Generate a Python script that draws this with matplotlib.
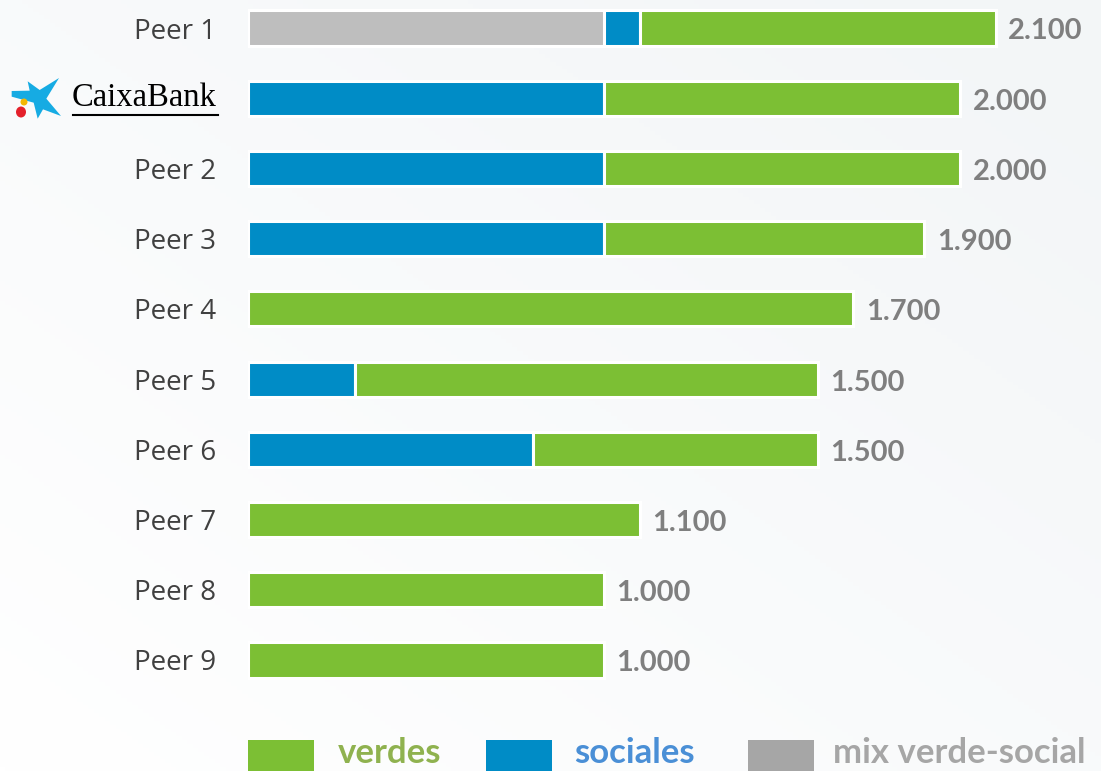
import matplotlib
matplotlib.use("Agg")
import matplotlib.pyplot as plt
import numpy as np
from matplotlib.patches import Polygon, Ellipse, Rectangle
from matplotlib.lines import Line2D

# ---------------- data ----------------
categories = ["Peer 1", "CaixaBank", "Peer 2", "Peer 3", "Peer 4",
              "Peer 5", "Peer 6", "Peer 7", "Peer 8", "Peer 9"]
# segment lengths as drawn in the picture
mix = [1000, 0, 0, 0, 0, 0, 0, 0, 0, 0]
sociales = [100, 1000, 1000, 1000, 0, 300, 800, 0, 0, 0]
verdes = [1000, 1000, 1000, 900, 1700, 1300, 800, 1100, 1000, 1000]
# printed totals
total_labels = ["2.100", "2.000", "2.000", "1.900", "1.700",
                "1.500", "1.500", "1.100", "1.000", "1.000"]
legend_labels = ["verdes", "sociales", "mix verde-social"]

# ---------------- style ----------------
C_GREEN = "#7CBF34"
C_BLUE = "#008CC6"
C_GRAY = "#BEBEBE"
C_LEG_GRAY = "#A6A6A6"
C_NUM = "#7F7F7F"
C_LABEL = "#404040"

W, H = 1101, 771
fig = plt.figure(figsize=(W / 100, H / 100), dpi=100)
fig.patch.set_facecolor("white")

# subtle background gradient
bg = fig.add_axes([0, 0, 1, 1], zorder=-10)
gx, gy = np.meshgrid(np.linspace(0, 1, 200), np.linspace(0, 1, 200))
g = np.clip(0.55 * gx + 0.55 * (1 - gy), 0, 1)
c0 = np.array([1.0, 1.0, 1.0])
c1 = np.array([0.955, 0.965, 0.972])
img = c0[None, None, :] * (1 - g[..., None]) + c1[None, None, :] * g[..., None]
bg.imshow(img, extent=[0, 1, 0, 1], aspect="auto", origin="upper")
bg.set_axis_off()

# main axes: value 0 at x=248px, 1000 units = 356 px; rows 70.22 px apart, first at y=28px
x0_px = 248
px_per_unit = 356 / 1000
ax_top_px, ax_bot_px = 0, 700
ax = fig.add_axes([x0_px / W, 1 - ax_bot_px / H, 1 - x0_px / W, (ax_bot_px - ax_top_px) / H])
ax.set_facecolor("none")
ax.set_xlim(0, (W - x0_px) / px_per_unit)
row_px = 70.22
ax.set_ylim(9 + (ax_bot_px - 660) / row_px, -(28 - ax_top_px) / row_px)

y = np.arange(len(categories))
mix_a = np.array(mix, dtype=float)
soc_a = np.array(sociales, dtype=float)
ver_a = np.array(verdes, dtype=float)
bh = 0.5
ax.barh(y, mix_a, height=bh, color=C_GRAY, edgecolor="white", linewidth=2.2)
ax.barh(y, soc_a, left=mix_a, height=bh, color=C_BLUE, edgecolor="white", linewidth=2.2)
ax.barh(y, ver_a, left=mix_a + soc_a, height=bh, color=C_GREEN, edgecolor="white", linewidth=2.2)

totals = mix_a + soc_a + ver_a
for yi, t, lab in zip(y, totals, total_labels):
    ax.annotate(lab, xy=(t, yi), xytext=(9, -2.5), textcoords="offset points",
                ha="left", va="center", fontsize=21, fontweight="bold",
                color=C_NUM, family="Lato")

ax.set_yticks(y)
ax.set_yticklabels([c if c != "CaixaBank" else "" for c in categories],
                   fontsize=20, color=C_LABEL, family="Open Sans")
ax.tick_params(axis="y", length=0, pad=23)
ax.set_xticks([])
for s in ax.spines.values():
    s.set_visible(False)

# ---------------- CaixaBank logo (figure pixel coords) ----------------
def fp(x, yy):
    return (x / W, 1 - yy / H)

star_crop = [(68, 34), (104, 60), (162, 24), (124, 86), (168, 138), (114, 118),
             (98, 146), (86, 98), (20, 80), (20, 63), (74, 62)]
star_px = [(cx / 3 + 5, cy / 3 + 70) for cx, cy in star_crop]
fig.patches.append(Polygon([fp(*p) for p in star_px], closed=True,
                           transform=fig.transFigure, facecolor="#16ABE3",
                           edgecolor="none", figure=fig))
fig.patches.append(Ellipse(fp(24, 102), 7 / W, 7 / H, transform=fig.transFigure,
                           facecolor="#F2B705", edgecolor="none", figure=fig))
fig.patches.append(Ellipse(fp(21, 112), 10 / W, 11 / H, transform=fig.transFigure,
                           facecolor="#E4202B", edgecolor="none", figure=fig))
fig.text(72 / W, 1 - 98 / H, "CaixaBank", ha="left", va="center",
         fontsize=23.5, color="black", family="Liberation Serif")
fig.lines.append(Line2D([73 / W, 218 / W], [1 - 115 / H, 1 - 115 / H],
                        transform=fig.transFigure, color="black", linewidth=1.5))

# ---------------- legend ----------------
leg_colors = [C_GREEN, C_BLUE, C_LEG_GRAY]
leg_text_colors = ["#8FB24F", "#4A8FD6", C_LEG_GRAY]
sq_x = [248, 486, 748]
tx_x = [338, 574, 833]
for lab, cc, tc, sx, tx in zip(legend_labels, leg_colors, leg_text_colors, sq_x, tx_x):
    fig.patches.append(Rectangle(
        (sx / W, 1 - 772 / H), 66 / W, 32 / H, transform=fig.transFigure,
        facecolor=cc, edgecolor="none", figure=fig))
    fig.text(tx / W, 1 - 753 / H, lab, ha="left", va="center", fontsize=25,
             fontweight="bold", color=tc, family="Lato")

fig.savefig("out.png", dpi=100)
